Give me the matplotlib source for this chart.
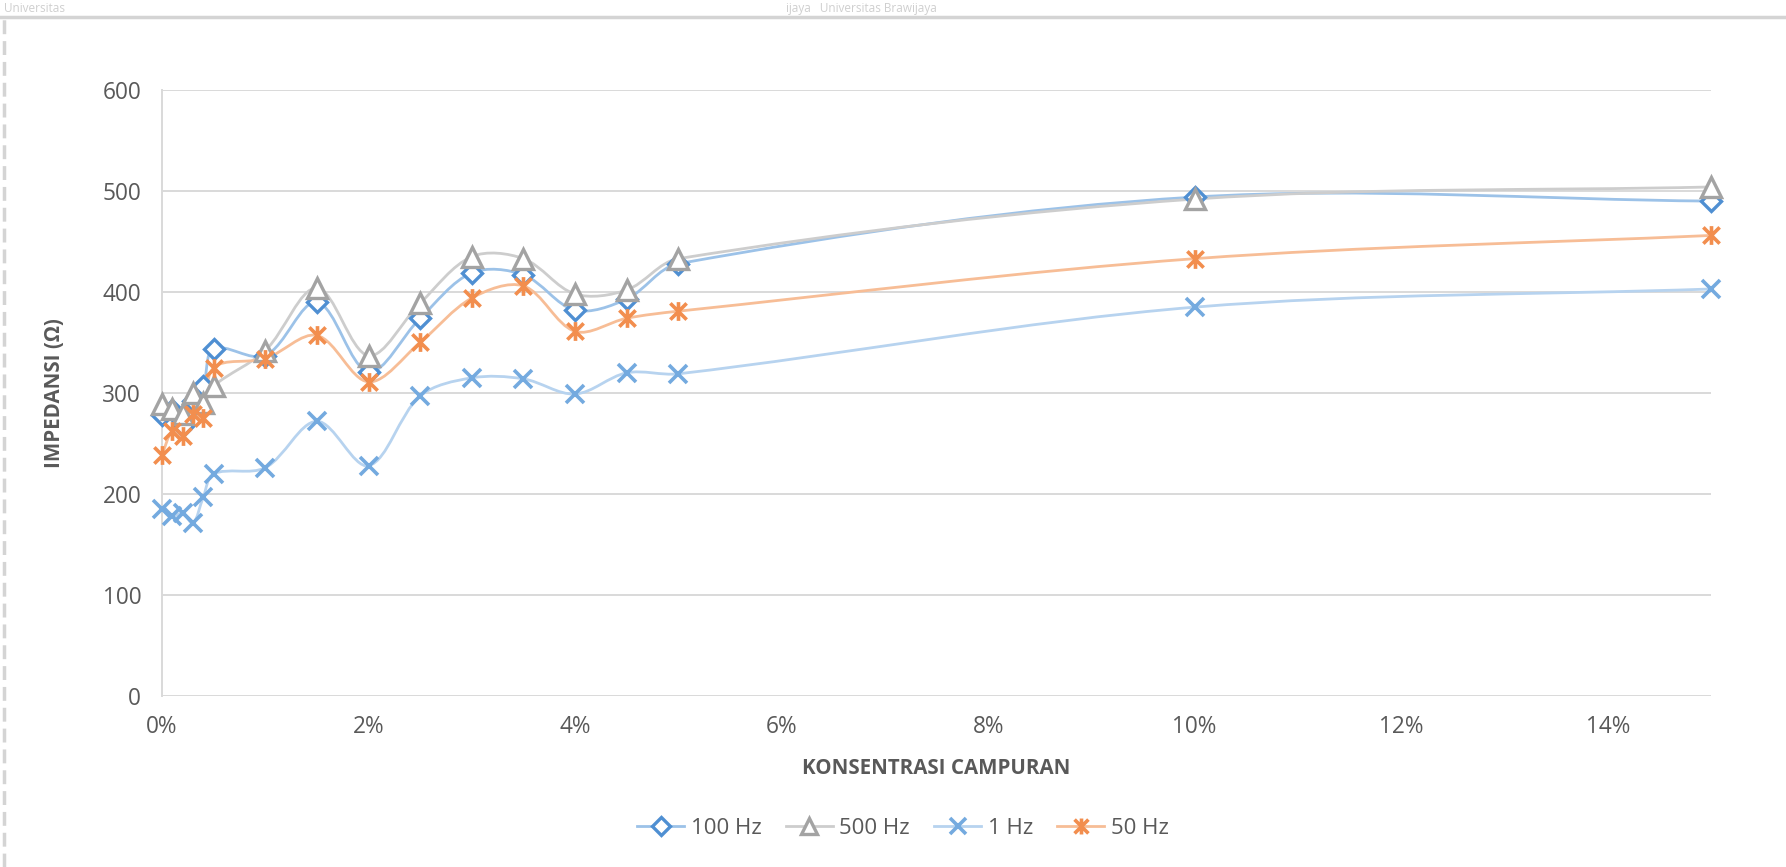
import numpy as np
import matplotlib
matplotlib.use("Agg")
import matplotlib.pyplot as plt
from matplotlib.path import Path
from matplotlib.patches import PathPatch
from matplotlib.lines import Line2D
from matplotlib.ticker import PercentFormatter, MultipleLocator

# Mixture concentration (fraction) and measured impedance per frequency
konsentrasi = [0.0, 0.001, 0.002, 0.003, 0.004, 0.005, 0.01, 0.015, 0.02,
               0.025, 0.03, 0.035, 0.04, 0.045, 0.05, 0.10, 0.15]
z_100hz = [278, 283, 267, 292, 307, 344, 337, 390, 321, 374, 419, 417, 382, 393, 428, 494, 490]
z_500hz = [289, 284, 279, 300, 290, 307, 342, 404, 337, 389, 435, 433, 398, 402, 433, 492, 504]
z_1hz = [185, 178, 181, 171, 197, 220, 226, 272, 228, 297, 315, 314, 299, 320, 319, 385, 403]
z_50hz = [239, 262, 257, 279, 275, 325, 334, 357, 311, 350, 394, 406, 361, 374, 381, 433, 456]

series_labels = ["100 Hz", "500 Hz", "1 Hz", "50 Hz"]
y_ticks = [0, 100, 200, 300, 400, 500, 600]

TXT = "#595959"
plt.rcParams["font.family"] = ["Open Sans", "DejaVu Sans"]

# Excel-style "star" marker: an x crossed by a vertical bar
star = Path([(-1, -1), (1, 1), (-1, 1), (1, -1), (0, -1.15), (0, 1.15)],
            [Path.MOVETO, Path.LINETO, Path.MOVETO, Path.LINETO, Path.MOVETO, Path.LINETO])


def smooth_path(ax, xs, ys):
    """Smoothed line through the points: cubic Bezier segments whose control
    arms are weighted by neighbouring segment lengths in screen space."""
    p = ax.transData.transform(np.column_stack([xs, ys]).astype(float))
    n = len(p)
    d = np.hypot(*np.diff(p, axis=0).T)
    verts = [p[0]]
    codes = [Path.MOVETO]
    for i in range(n - 1):
        p1, p2 = p[i], p[i + 1]
        if i > 0:
            c1 = p1 + (p2 - p[i - 1]) * d[i] / (d[i - 1] + d[i]) / 3.0
        else:
            c1 = p1 + (p2 - p1) / 3.0
        if i + 2 < n:
            c2 = p2 - (p[i + 2] - p1) * d[i] / (d[i] + d[i + 1]) / 3.0
        else:
            c2 = p2 - (p2 - p1) / 3.0
        verts += [c1, c2, p2]
        codes += [Path.CURVE4] * 3
    verts = ax.transData.inverted().transform(np.array(verts))
    return Path(verts, codes)


styles = [
    dict(data=z_100hz, line="#9CC2E8", mcolor="#4F8FD2", marker="D", ms=10.5, mew=2.4),
    dict(data=z_500hz, line="#CDCDCD", mcolor="#A3A3A3", marker="^", ms=14, mew=2.4),
    dict(data=z_1hz, line="#B7D3EF", mcolor="#74AADF", marker="x", ms=13.5, mew=2.6),
    dict(data=z_50hz, line="#F7BD96", mcolor="#F28E4E", marker=star, ms=13.5, mew=2.6),
]

fig = plt.figure(figsize=(17.86, 8.67), dpi=100)
ax = fig.add_axes([162 / 1786, 1 - 696 / 867, (1711 - 162) / 1786, (696 - 90) / 867])
ax.set_xlim(0, 0.15)
ax.set_ylim(0, 600)

handles = []
for st, lab in zip(styles, series_labels):
    patch = PathPatch(smooth_path(ax, konsentrasi, st["data"]), fill=False,
                      edgecolor=st["line"], lw=2.0, zorder=3, clip_on=False)
    ax.add_patch(patch)
    ax.plot(konsentrasi, st["data"], linestyle="none", marker=st["marker"],
            markersize=st["ms"], markerfacecolor="white" if st["marker"] in ("D", "^") else "none",
            markeredgecolor=st["mcolor"], markeredgewidth=st["mew"], zorder=4, clip_on=False)
    handles.append(Line2D([], [], color=st["line"], lw=2.0, marker=st["marker"],
                          markersize=st["ms"] * 0.85, markerfacecolor="white",
                          markeredgecolor=st["mcolor"], markeredgewidth=st["mew"],
                          label=lab))

ax.xaxis.set_major_locator(MultipleLocator(0.02))
ax.xaxis.set_major_formatter(PercentFormatter(xmax=1, decimals=0))
ax.set_yticks(y_ticks)
ax.grid(axis="y", color="#D9D9D9", lw=1.4, zorder=0)
for s in ["top", "right", "bottom"]:
    ax.spines[s].set_visible(False)
ax.spines["left"].set_color("#D9D9D9")
ax.spines["left"].set_linewidth(1.4)
ax.tick_params(axis="both", length=0, labelsize=16.3, labelcolor=TXT)
ax.tick_params(axis="y", pad=15)
ax.tick_params(axis="x", pad=14)

ax.set_xlabel("KONSENTRASI CAMPURAN", fontsize=14.8, fontweight="bold", color=TXT, labelpad=13)
ax.set_ylabel("IMPEDANSI (Ω)", fontsize=14.8, fontweight="bold", color=TXT, labelpad=27)

leg = fig.legend(handles=handles, loc="center", bbox_to_anchor=(903 / 1786, 1 - 828 / 867),
                 ncol=4, frameon=False, fontsize=16, handlelength=2.1, handletextpad=0.3,
                 columnspacing=1.1)
for t in leg.get_texts():
    t.set_color(TXT)

# Outer chart border and the faint header strip above it
fig.add_artist(Line2D([0, 1], [1 - 17 / 867, 1 - 17 / 867], color="#D4D4D4", lw=2.5,
                      transform=fig.transFigure))
fig.add_artist(Line2D([4 / 1786, 4 / 1786], [0, 1 - 17 / 867], color="#D4D4D4", lw=2.5,
                      ls=(0, (4, 2)), transform=fig.transFigure))
for xp, txt in [(0.002, "Universitas"), (0.44, "ijaya   Universitas Brawijaya")]:
    fig.text(xp, 1 - 15 / 867, txt, fontsize=8.5, color="#CFCFCF", va="bottom", ha="left")

fig.savefig("out.png", dpi=100, facecolor="white")
